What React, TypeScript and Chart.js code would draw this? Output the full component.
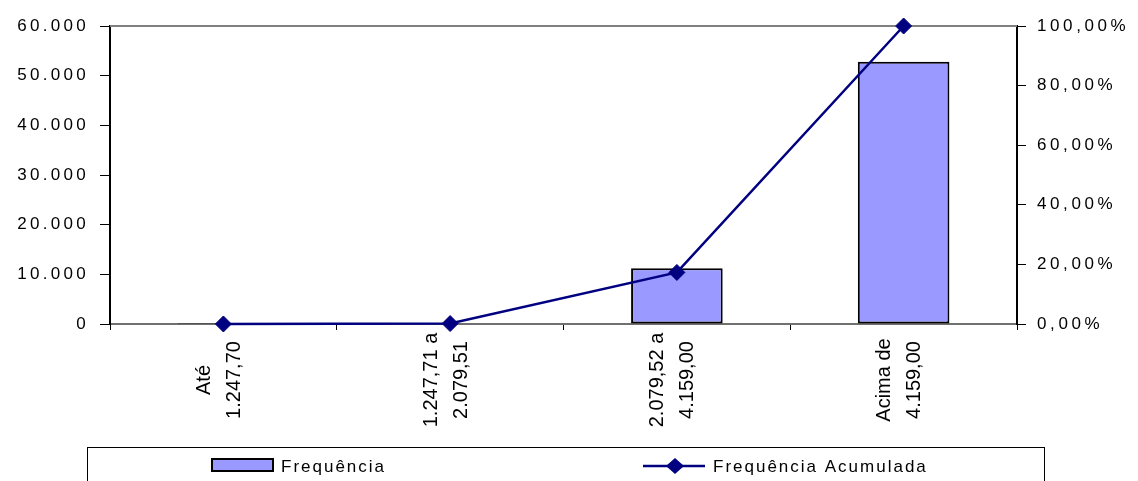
import React, { useEffect, useRef } from "react";
import { Chart, registerables } from "chart.js";

Chart.register(...registerables);

const categories: string[][] = [
  ["Até", "1.247,70"],
  ["1.247,71 a", "2.079,51"],
  ["2.079,52 a", "4.159,00"],
  ["Acima de", "4.159,00"],
];
const frequencia: number[] = [5, 90, 11200, 52800];
const acumulada: number[] = [0.01, 0.15, 17.3, 100];
const seriesNames: string[] = ["Frequência", "Frequência Acumulada"];

const FONT = "Arial, 'Liberation Sans', sans-serif";
const BAR_COLOR = "#9999FF";
const LINE_COLOR = "#000080";

const fmtThousands = (v: number) =>
  String(Math.round(v)).replace(/\B(?=(\d{3})+(?!\d))/g, ".");
const fmtPct = (v: number) => v.toFixed(2).replace(".", ",") + "%";

const spacingPlugin = {
  id: "spacing",
  beforeDraw(chart: any) {
    const spacing: Record<string, number> = { y: 3.3, y1: 3.6 };
    Object.keys(spacing).forEach((id) => {
      const s = chart.scales[id];
      if (s && !s._spPatched) {
        const orig = s.drawLabels.bind(s);
        s.drawLabels = (area: any) => {
          const c = s.ctx;
          c.save();
          (c as any).letterSpacing = spacing[id] + "px";
          orig(area);
          c.restore();
        };
        s._spPatched = true;
      }
    });
  },
};

const framePlugin = {
  id: "frame",
  beforeDatasetsDraw(chart: any) {
    const { ctx, chartArea } = chart;
    ctx.save();
    ctx.strokeStyle = "#808080";
    ctx.lineWidth = 2;
    ctx.beginPath();
    ctx.moveTo(chartArea.left, chartArea.top);
    ctx.lineTo(chartArea.right, chartArea.top);
    ctx.stroke();
    ctx.restore();
  },
  afterDraw(chart: any) {
    const ctx: CanvasRenderingContext2D = chart.ctx;
    const ds = chart.data.datasets;
    const xs = chart.scales.x;
    ctx.save();
    // category labels, rotated, centred lines
    ctx.font = "20px " + FONT;
    ctx.fillStyle = "#000";
    ctx.textAlign = "center";
    ctx.textBaseline = "middle";
    (chart.data.labels as string[][]).forEach((lab, i) => {
      const px = xs.getPixelForValue(i);
      ctx.save();
      ctx.translate(px, 380);
      ctx.rotate(-Math.PI / 2);
      ctx.fillText(lab[0], 0, -19);
      ctx.fillText(lab[1], 0, 11);
      ctx.restore();
    });
    // legend box
    ctx.strokeStyle = "#000";
    ctx.lineWidth = 1;
    ctx.strokeRect(87.5, 447.5, 957, 60);
    const cy = 466;
    // bar swatch
    ctx.fillStyle = ds[0].backgroundColor;
    ctx.fillRect(212, 459, 61, 12);
    ctx.lineWidth = 2;
    ctx.strokeStyle = "#000";
    ctx.strokeRect(212, 459, 61, 12);
    ctx.font = "17px " + FONT;
    (ctx as any).letterSpacing = "2px";
    ctx.fillStyle = "#000";
    ctx.textBaseline = "middle";
    ctx.textAlign = "left";
    ctx.fillText(ds[0].label, 281, cy + 1);
    // line swatch
    ctx.strokeStyle = ds[1].borderColor;
    ctx.lineWidth = 2.5;
    ctx.beginPath();
    ctx.moveTo(643, cy);
    ctx.lineTo(705, cy);
    ctx.stroke();
    ctx.fillStyle = ds[1].borderColor;
    ctx.beginPath();
    ctx.moveTo(675, cy - 8);
    ctx.lineTo(684, cy);
    ctx.lineTo(675, cy + 8);
    ctx.lineTo(666, cy);
    ctx.closePath();
    ctx.fill();
    ctx.fillStyle = "#000";
    ctx.fillText(ds[1].label, 713, cy + 1);
    ctx.restore();
  },
};

export default function App() {
  const ref = useRef<HTMLCanvasElement>(null);
  useEffect(() => {
    if (!ref.current) return;
    const chart = new Chart(ref.current, {
      type: "bar",
      data: {
        labels: categories as any,
        datasets: [
          {
            type: "bar",
            label: seriesNames[0],
            data: frequencia,
            backgroundColor: BAR_COLOR,
            borderColor: "#000",
            borderWidth: 2,
            borderSkipped: false,
            barPercentage: 0.404,
            categoryPercentage: 1,
            yAxisID: "y",
            order: 1,
          } as any,
          {
            type: "line",
            label: seriesNames[1],
            data: acumulada,
            borderColor: LINE_COLOR,
            backgroundColor: LINE_COLOR,
            borderWidth: 2.5,
            pointStyle: "rectRot",
            pointRadius: 8,
            pointBorderWidth: 1,
            pointBackgroundColor: LINE_COLOR,
            pointBorderColor: LINE_COLOR,
            tension: 0,
            clip: false,
            yAxisID: "y1",
            order: 0,
          } as any,
        ],
      },
      options: {
        responsive: false,
        animation: false,
        events: [],
        layout: { padding: { top: 26, left: 0, right: 0, bottom: 37 } },
        plugins: {
          legend: { display: false },
          tooltip: { enabled: false },
        },
        scales: {
          x: {
            offset: true,
            grid: {
              offset: true,
              drawOnChartArea: false,
              color: "#000",
              tickLength: 6,
              tickWidth: 1,
            },
            border: { color: "#707070", width: 2 },
            ticks: { display: false },
            afterFit(scale: any) {
              scale.height = 120;
            },
          },
          y: {
            position: "left",
            min: 0,
            max: 60000,
            grid: {
              drawOnChartArea: false,
              color: "#000",
              tickLength: 10,
              tickWidth: 1,
            },
            border: { color: "#000", width: 2 },
            ticks: {
              stepSize: 10000,
              padding: 11,
              color: "#000",
              font: { family: FONT, size: 17 },
              callback: (v: any) => fmtThousands(Number(v)),
            },
            afterFit(scale: any) {
              scale.width = 110;
            },
          },
          y1: {
            position: "right",
            min: 0,
            max: 100,
            grid: {
              drawOnChartArea: false,
              color: "#000",
              tickLength: 9,
              tickWidth: 1,
            },
            border: { color: "#000", width: 2 },
            ticks: {
              stepSize: 20,
              padding: 11,
              color: "#000",
              font: { family: FONT, size: 17 },
              callback: (v: any) => fmtPct(Number(v)),
            },
            afterFit(scale: any) {
              scale.width = 121;
            },
          },
        },
      },
      plugins: [spacingPlugin, framePlugin],
    });
    return () => chart.destroy();
  }, []);
  return (
    <div style={{ position: "fixed", left: 0, top: 0, width: 1138, height: 481, background: "#fff" }}>
      <canvas ref={ref} width={1138} height={481} style={{ display: "block" }} />
    </div>
  );
}
